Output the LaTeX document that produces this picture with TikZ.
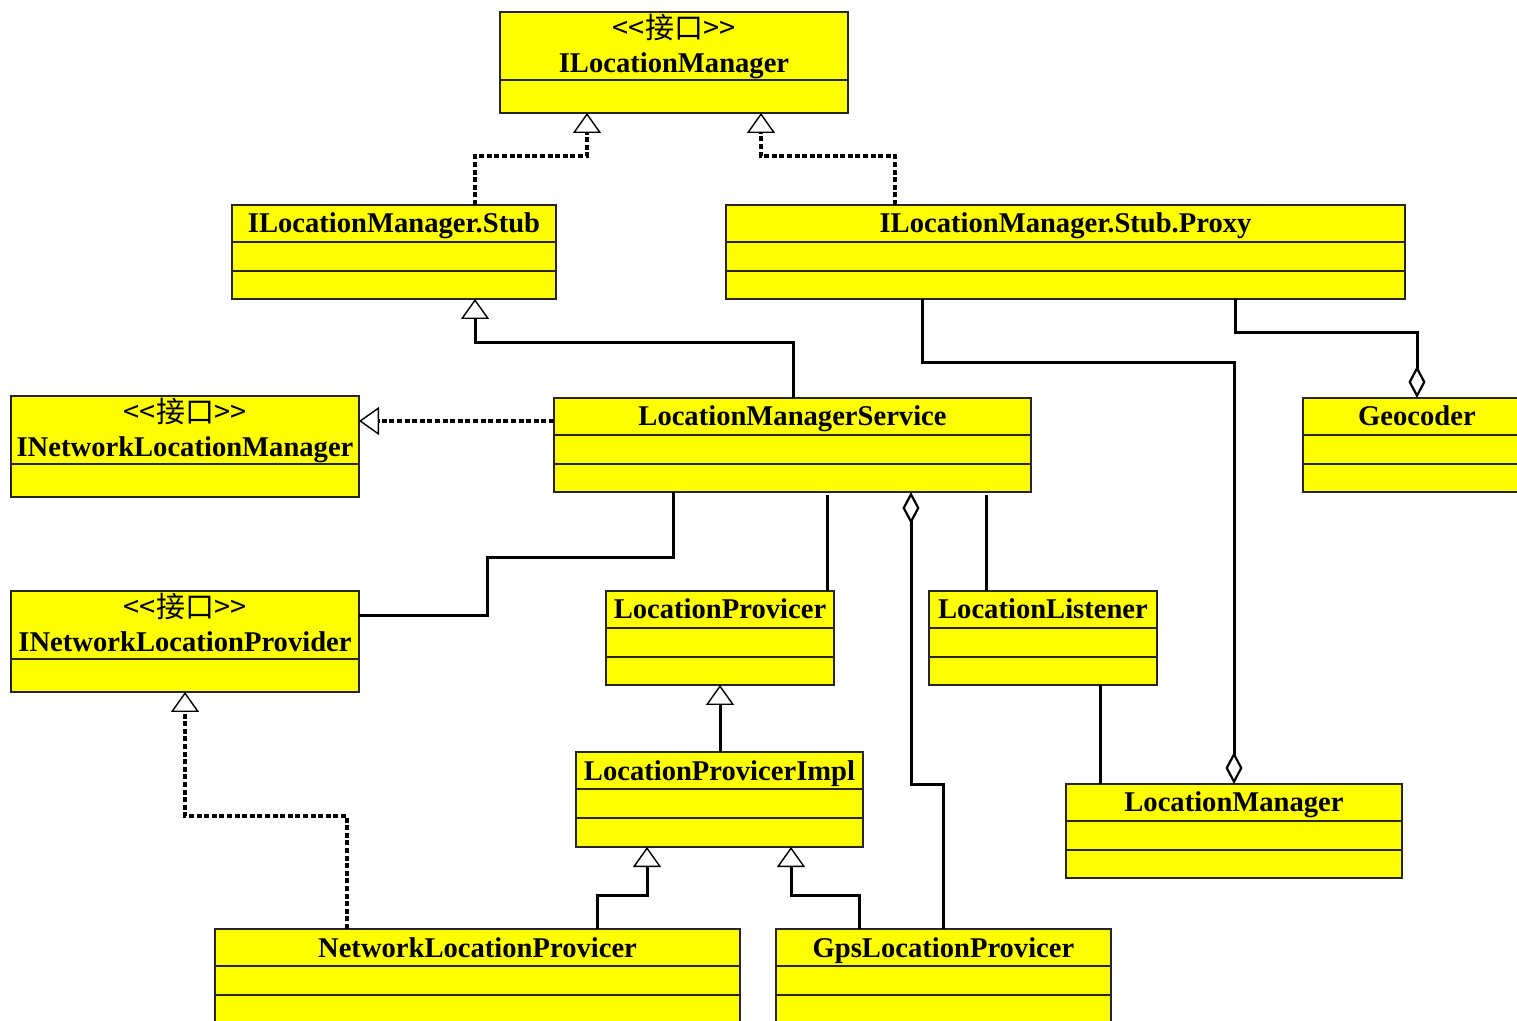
\documentclass[tikz,border=0pt]{standalone}
\usepackage{fontspec}
\setmainfont{Liberation Serif}
\newfontfamily\cjk{Noto Sans CJK SC}
\usetikzlibrary{arrows.meta,calc}
\definecolor{umlyellow}{RGB}{255,255,0}

% class box: name, x, y, width, height, title
\newcommand{\umlclass}[6]{%
  \node[classbox, minimum width=#4*0.5pt, minimum height=#5*0.5pt] (#1) at (#2,#3) {};
  \draw[classline] ($(#1.north west)+(0,37)$) -- ($(#1.north east)+(0,37)$);
  \draw[classline] ($(#1.north west)+(0,66)$) -- ($(#1.north east)+(0,66)$);
  \node[classname] at ($(#1.north)+(0,28)$) {#6};
}
% interface box: name, x, y, width, title
\newcommand{\umliface}[5]{%
  \node[classbox, minimum width=#4*0.5pt, minimum height=50.5pt] (#1) at (#2,#3) {};
  \draw[classline] ($(#1.north west)+(0,68)$) -- ($(#1.north east)+(0,68)$);
  \node[stereo] at ($(#1.north)+(0,27)$) {<{}<接口>{}>};
  \node[classname] at ($(#1.north)+(0,61)$) {#5};
}

\begin{document}
\begin{tikzpicture}[
  x=0.5pt, y=-0.5pt,
  classbox/.style={draw=black!85, fill=umlyellow, line width=1pt, outer sep=0pt, inner sep=0pt, anchor=north west},
  classline/.style={draw=black!85, line width=1pt},
  classname/.style={font=\bfseries\fontsize{14.3}{16}\selectfont, inner sep=0pt, anchor=base},
  stereo/.style={font=\cjk\fontsize{14.5}{16}\selectfont, inner sep=0pt, anchor=base},
  assoc/.style={line width=1.5pt},
  inherit/.style={assoc, -{Triangle[open, length=10pt, width=14pt, line width=0.7pt]}},
  realize/.style={line width=1.7pt, dash pattern=on 2.5pt off 1.3pt, -{Triangle[open, length=10pt, width=14pt, line width=0.7pt]}},
  aggreg/.style={assoc, -{Diamond[open, length=16pt, width=8.5pt, line width=1.1pt]}}
]
\useasboundingbox (0,0) rectangle (1517,1021);

% interfaces
\umliface{ilm}{500}{12}{348}{ILocationManager}
\umliface{inlm}{11}{396}{348}{INetworkLocationManager}
\umliface{inlp}{11}{591}{348}{INetworkLocationProvider}

% classes
\umlclass{stub}{232}{205}{324}{94}{ILocationManager.Stub}
\umlclass{proxy}{726}{205}{679}{94}{ILocationManager.Stub.Proxy}
\umlclass{lms}{554}{398}{477}{94}{LocationManagerService}
\umlclass{geo}{1303}{398}{228}{94}{Geocoder}
\umlclass{lp}{606}{591}{228}{94}{LocationProvicer}
\umlclass{ll}{929}{591}{228}{94}{LocationListener}
\umlclass{lpi}{576}{752}{287}{95}{LocationProvicerImpl}
\umlclass{lm}{1066}{784}{336}{94}{LocationManager}
\umlclass{nlp}{215}{929}{525}{94}{NetworkLocationProvicer}
\umlclass{glp}{776}{929}{335}{94}{GpsLocationProvicer}

% realization:
\draw[realize] ($(stub.north west)+(243,0)$) -- ++(0,-49) -| ($(ilm.south west)+(87,0)$);
\draw[realize] ($(proxy.north west)+(169,0)$) -- ++(0,-49) -| ($(ilm.south west)+(261,0)$);
\coordinate (lmsw) at ($(lms.north west)+(0,23)$);
\draw[realize] (lmsw) -- (lmsw -| inlm.east);
\draw[realize] ($(nlp.north west)+(132,0)$) -- ++(0,-113) -| (inlp.south);

% inheritance:
\draw[inherit] ($(lms.north west)+(239,0)$) -- ++(0,-55) -| ($(stub.south west)+(243,0)$);
\draw[inherit] ($(lpi.north west)+(144,0)$) -- ($(lp.south west)+(114,0)$);
\draw[inherit] ($(nlp.north west)+(382,0)$) -- ++(0,-34) -| ($(lpi.south west)+(71,0)$);
\draw[inherit] ($(glp.north west)+(83,0)$) -- ++(0,-34) -| ($(lpi.south west)+(215,0)$);

% aggregation:
\draw[aggreg] ($(proxy.south west)+(196,0)$) -- ++(0,64) -| ($(lm.north west)+(168,0)$);
\draw[aggreg] ($(proxy.south west)+(509,0)$) -- ++(0,34) -| ($(geo.north west)+(114,0)$);
\draw[aggreg] ($(glp.north west)+(167,0)$) -- ++(0,-145) -| ($(lms.south west)+(357,0)$);

% association:
\draw[assoc] ($(lms.south west)+(119,0)$) |- ++(-186,66) |- ($(inlp.north east)+(0,25)$);
\draw[assoc, shorten >=1.5pt] ($(lp.north west)+(221,0)$) -- ($(lms.south west)+(273,0)$);
\draw[assoc, shorten >=1.5pt] ($(ll.north west)+(57,0)$) -- ($(lms.south west)+(432,0)$);
\draw[assoc] ($(ll.south west)+(171,0)$) -- ($(lm.north west)+(34,0)$);
\end{tikzpicture}
\end{document}
